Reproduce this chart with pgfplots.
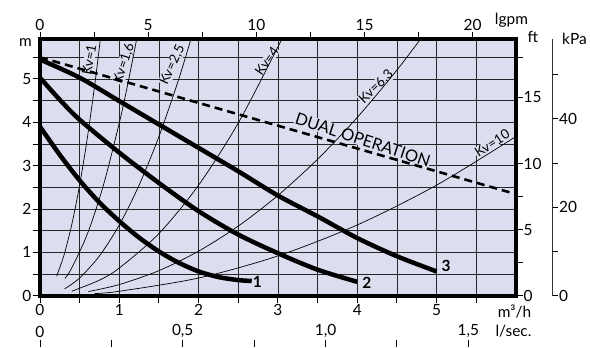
\documentclass[border=0pt]{standalone}
\usepackage{pgfplots}
\pgfplotsset{compat=1.18}
\usepackage{fontspec}
\setmainfont{Lato}
\definecolor{bgc}{RGB}{220,222,240}
\newcommand{\tl}{\fontsize{15.5}{15.5}\selectfont}
\newcommand{\kv}{\fontsize{13.5}{13.5}\selectfont}
\pgfplotsset{
  common/.style={scale only axis, width=476.4bp, height=256.9bp,
    tick align=outside, major tick length=7bp, minor tick length=7bp,
    every tick/.append style={black, line width=0.9bp},
    tick label style={font=\tl, inner sep=1.5bp},
    /pgf/number format/assume math mode=true},
}
\begin{document}
\begin{tikzpicture}
\path (0,0) rectangle (590bp,347bp);
% ---------- main axis ----------
\begin{axis}[common,
  at={(40bp,51bp)}, anchor=south west,
  xmin=0, xmax=6, ymin=0, ymax=5.92,
  axis background/.style={fill=bgc},
  axis line style={line width=4bp, line cap=rect},
  xtick={0,1,2,3,4,5}, minor xtick={0.5,1.5,2.5,3.5,4.5,5.5},
  ytick={0,1,2,3,4,5}, minor ytick={0.5,1.5,2.5,3.5,4.5,5.5},
  xtick pos=left, ytick pos=left,
  grid=both,
  major grid style={black!85, line width=0.8bp},
  minor grid style={black!85, line width=0.8bp},
]
% Kv labels
\node[font=\kv, fill=bgc, inner sep=0.5bp, rotate=80] at (axis cs:0.62,5.44) {Kv=1};
\node[font=\kv, fill=bgc, inner sep=0.5bp, rotate=72] at (axis cs:1.06,5.36) {Kv=1,6};
\node[font=\kv, fill=bgc, inner sep=0.5bp, rotate=65] at (axis cs:1.67,5.32) {Kv=2,5};
\node[font=\kv, fill=bgc, inner sep=0.5bp, rotate=55] at (axis cs:2.86,5.41) {Kv=4};
\node[font=\kv, fill=bgc, inner sep=0.5bp, rotate=44] at (axis cs:4.24,4.82) {Kv=6,3};
\node[font=\kv, fill=bgc, inner sep=0.5bp, rotate=33] at (axis cs:5.70,3.52) {Kv=10};
\node[font=\fontsize{16.5}{16.5}\selectfont, fill=bgc, inner sep=0.5bp, rotate=-18] at (axis cs:4.07,3.60) {DUAL OPERATION};
% Kv curves
\addplot[black, line width=0.7bp, smooth] coordinates {(0.21,0.45)(0.3,0.918)(0.4,1.632)(0.5,2.55)(0.6,3.672)(0.7,4.998)(0.78,6.206)};
\addplot[black, line width=0.7bp, smooth] coordinates {(0.315,0.395)(0.4,0.637)(0.6,1.434)(0.8,2.55)(1.0,3.984)(1.1,4.82)(1.2,5.737)(1.25,6.225)};
\addplot[black, line width=0.7bp, smooth] coordinates {(0.31,0.157)(0.5,0.408)(0.75,0.918)(1.0,1.632)(1.25,2.55)(1.5,3.672)(1.75,4.998)(1.95,6.206)};
\addplot[black, line width=0.7bp, smooth] coordinates {(0.40,0.102)(0.75,0.359)(1.0,0.6375)(1.5,1.434)(2.0,2.55)(2.5,3.984)(3.0,5.738)(3.1,6.126)};
\addplot[black, line width=0.7bp, smooth] coordinates {(0.61,0.0956)(1.0,0.257)(1.5,0.578)(2.0,1.028)(2.5,1.606)(3.0,2.313)(3.5,3.148)(4.0,4.112)(4.5,5.204)(4.9,6.171)};
\addplot[black, line width=0.7bp, smooth] coordinates {(0.69,0.0486)(1,0.102)(2,0.408)(3,0.918)(4,1.632)(5,2.55)(6,3.672)};
% dual operation
\addplot[black, line width=2.6bp, dash pattern=on 8bp off 5bp] coordinates {(0,5.5)(5.95,2.37)};
% pump curves
\addplot[black, line width=4.5bp, smooth] coordinates {(0,3.9)(0.25,3.25)(0.5,2.66)(0.75,2.15)(1.0,1.72)(1.25,1.34)(1.5,1.02)(1.75,0.76)(2.0,0.56)(2.25,0.43)(2.5,0.36)(2.67,0.34)};
\addplot[black, line width=4.5bp, smooth] coordinates {(0,5.03)(0.25,4.52)(0.5,4.06)(1.0,3.30)(1.5,2.60)(2.0,1.95)(2.5,1.41)(3.0,0.98)(3.5,0.60)(4.0,0.32)};
\addplot[black, line width=4.5bp, smooth] coordinates {(0,5.45)(0.5,5.03)(1.0,4.49)(1.5,3.95)(2.0,3.41)(2.5,2.87)(3.0,2.31)(3.5,1.83)(4.0,1.33)(4.5,0.91)(5.0,0.56)};
\node[font=\fontsize{15.5}{15.5}\selectfont\bfseries] at (axis cs:2.74,0.32) {1};
\node[font=\fontsize{15.5}{15.5}\selectfont\bfseries] at (axis cs:4.12,0.29) {2};
\node[font=\fontsize{15.5}{15.5}\selectfont\bfseries] at (axis cs:5.12,0.68) {3};
\end{axis}
% ---------- top lgpm axis ----------
\begin{axis}[common,
  at={(40bp,51bp)}, anchor=south west,
  xmin=0, xmax=21.997, ymin=0, ymax=1,
  hide y axis, axis x line*=top, axis line style={draw=none},
  xtick={0,5,10,15,20}, minor xtick={2.5,7.5,12.5,17.5},
]
\end{axis}
% ---------- right ft axis ----------
\begin{axis}[common,
  at={(40bp,51bp)}, anchor=south west,
  xmin=0, xmax=1, ymin=0, ymax=19.423,
  hide x axis, axis y line*=right, axis line style={draw=none},
  ytick={0,5,10,15}, minor ytick={2.5,7.5,18},
  yticklabel style={anchor=west, inner sep=0.5bp},
]
\end{axis}
% ---------- kPa axis ----------
\begin{axis}[common, width=10bp,
  at={(552.5bp,51bp)}, anchor=south east,
  xmin=0, xmax=1, ymin=0, ymax=58.06,
  hide x axis, axis y line*=right,
  axis line style={-, black!80, line width=0.9bp},
  major tick length=6bp, minor tick length=6bp,
  ytick={0,20,40}, minor ytick={10,30,50},
  yticklabel style={anchor=west, inner sep=1bp},
]
\end{axis}
% ---------- l/sec axis ----------
\begin{axis}[common, height=7bp,
  at={(40bp,0bp)}, anchor=south west,
  xmin=0, xmax=1.66667, ymin=0, ymax=1,
  hide y axis, axis x line*=top, axis line style={draw=none},
  tick align=inside,
  xtick={0,0.5,1,1.5}, minor xtick={0.25,0.75,1.25},
  xticklabels={0,{0,5},{1,0},{1,5}},
]
\end{axis}
% ---------- unit labels ----------
\node[font=\tl, anchor=base] at (25.5bp,300bp) {m};
\node[font=\tl, anchor=base] at (512bp,322bp) {lgpm};
\node[font=\tl, anchor=base] at (533.5bp,304bp) {ft};
\node[font=\tl, anchor=base] at (575bp,302bp) {kPa};
\node[font=\tl, anchor=base] at (515bp,29bp) {m³/h};
\node[font=\tl, anchor=base] at (514bp,10bp) {l/sec.};
\end{tikzpicture}
\end{document}
